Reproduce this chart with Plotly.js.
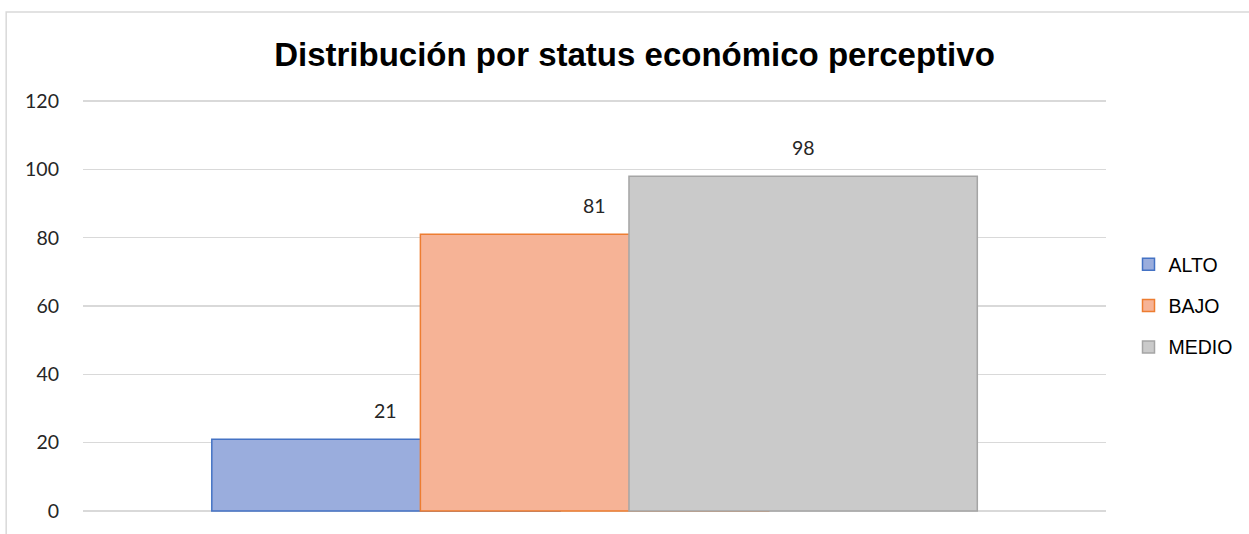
<!DOCTYPE html>
<html>
<head>
<meta charset="utf-8">
<script src="https://cdn.plot.ly/plotly-3.0.1.min.js"></script>
<style>html,body{margin:0;padding:0;background:#fff;}#chart{width:1249px;height:534px;}</style>
</head>
<body>
<div id="chart"></div>
<script>
const categories = [""];
const seriesNames = ["ALTO", "BAJO", "MEDIO"];
const altoValues = [21];
const bajoValues = [81];
const medioValues = [98];
const yTickValues = [0, 20, 40, 60, 80, 100, 120];

const seriesValues = [altoValues, bajoValues, medioValues];
const fills = ["#9aaddd", "#f6b396", "#cacaca"];
const borders = ["#4472c4", "#ed7d31", "#a5a5a5"];
const offsets = [-0.3741, -0.1702, 0.0337];
const barWidth = 0.3405;

const traces = seriesNames.map((name, i) => ({
  type: "bar",
  name: name,
  x: categories,
  y: seriesValues[i],
  offset: offsets[i],
  width: barWidth,
  legendgroup: name,
  marker: { color: fills[i], line: { color: borders[i], width: 1.5 } },
  hoverinfo: "skip"
}));

const labelFont = { family: "Lato, 'Open Sans', sans-serif", size: 19.5, color: "#262626" };
const annotations = [];
seriesNames.forEach((name, i) => {
  seriesValues[i].forEach((v, j) => {
    annotations.push({
      x: j + offsets[i] + barWidth / 2,
      y: v,
      xref: "x", yref: "y",
      text: String(v),
      showarrow: false,
      xanchor: "center", yanchor: "bottom",
      yshift: 15,
      font: labelFont
    });
  });
});

const layout = {
  width: 1249,
  height: 534,
  margin: { l: 83, r: 141, t: 96, b: 18 },
  paper_bgcolor: "#ffffff",
  plot_bgcolor: "#ffffff",
  barmode: "overlay",
  showlegend: true,
  title: {
    text: "<b>Distribución por status económico perceptivo</b>",
    font: { family: "'Liberation Sans', Arial, sans-serif", size: 33, color: "#000000" },
    x: 0.508, xref: "container", xanchor: "center",
    y: 1 - 54 / 534, yref: "container", yanchor: "middle"
  },
  xaxis: {
    type: "category",
    range: [-0.5, 0.5],
    showticklabels: false,
    showgrid: false,
    zeroline: false,
    showline: false,
    ticks: "",
    fixedrange: true
  },
  yaxis: {
    range: [-1.5, 121.5],
    tickvals: yTickValues,
    ticktext: yTickValues.map(String),
    showgrid: true,
    gridcolor: "#d9d9d9",
    gridwidth: 1.3,
    zeroline: false,
    showline: false,
    ticks: "",
    ticklabelstandoff: 23,
    tickfont: labelFont,
    fixedrange: true
  },
  legend: {
    x: 1.022, xanchor: "left",
    y: 0.5, yanchor: "middle",
    font: { family: "'Liberation Sans', Arial, sans-serif", size: 19.5, color: "#000000" },
    tracegroupgap: 13,
    itemwidth: 30,
    bgcolor: "rgba(0,0,0,0)"
  },
  annotations: annotations,
  shapes: [{
    type: "rect", xref: "paper", yref: "paper",
    x0: -0.0751, x1: 1.17, y0: -0.1, y1: 1.2,
    line: { color: "#d9d9d9", width: 1.5 },
    fillcolor: "rgba(0,0,0,0)",
    layer: "below"
  }]
};

Plotly.newPlot("chart", traces, layout, { displayModeBar: false, staticPlot: true });
</script>
</body>
</html>
